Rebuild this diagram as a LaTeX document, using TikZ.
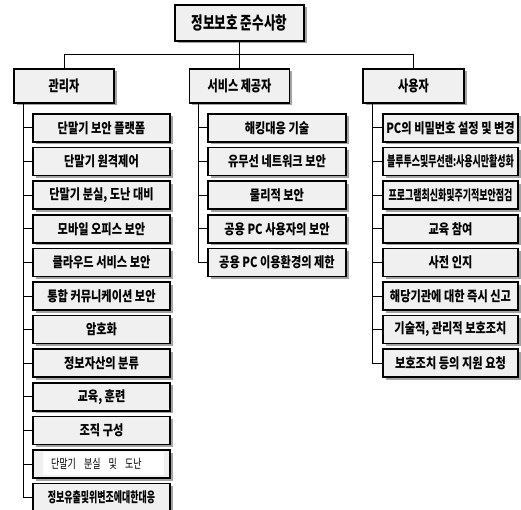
\documentclass[tikz,border=0pt]{standalone}
\usepackage{fontspec}
\usetikzlibrary{shadows}
\newfontfamily\krT[FakeStretch=0.72]{Noto Sans CJK KR}
\newfontfamily\krM[FakeStretch=0.74]{Noto Sans CJK KR}
\newfontfamily\krS[FakeStretch=0.8]{Noto Sans CJK KR}
\newfontfamily\krN[FakeStretch=0.64]{Noto Sans CJK KR}
\newfontfamily\krR[FakeStretch=0.72]{Noto Sans CJK KR}
\definecolor{boxgray}{HTML}{F0F0F0}
\tikzset{
  box/.style={draw, line width=1.6pt, fill=boxgray, inner sep=0pt,
    drop shadow={shadow xshift=2.5pt, shadow yshift=-2.5pt, fill=black!60, opacity=0.6}},
  titlebox/.style={box, minimum width=129pt, minimum height=36pt,
    font=\krT\bfseries\fontsize{17.5}{20}\selectfont},
  catbox/.style={box, minimum width=100pt, minimum height=34pt,
    font=\krM\bfseries\fontsize{15}{18}\selectfont},
  item/.style={box, minimum height=28pt, font=\krS\bfseries\fontsize{14}{16}\selectfont},
  itemL/.style={item, minimum width=137pt},
  itemM/.style={item, minimum width=138pt},
  itemR/.style={item, minimum width=135pt},
  narrow/.style={font=\krN\bfseries\fontsize{14}{16}\selectfont},
  link/.style={line width=1pt}
}
\begin{document}
\begin{tikzpicture}[x=1pt,y=-1pt]
\useasboundingbox (0,0) rectangle (521,510);
% title and categories
\node[titlebox] (T) at (239.5,23) {정보보호 준수사항};
\node[catbox] (L) at (64,86) {관리자};
\node[catbox] (S) at (239.5,86) {서비스 제공자};
\node[catbox, minimum width=101pt] (U) at (413.5,86) {사용자};
\coordinate (bus) at (239.5,54.5);
\draw[link] (T.south) -- (S.north);
\draw[link] (L.north) |- (bus) -| (U.north);
% left column
\node[itemL] (L1) at (101.5,128) {단말기 보안 플랫폼};
\node[itemL] (L2) at (101.5,161.6) {단말기 원격제어};
\node[itemL] (L3) at (101.5,195.2) {단말기 분실, 도난 대비};
\node[itemL] (L4) at (101.5,228.8) {모바일 오피스 보안};
\node[itemL] (L5) at (101.5,262.4) {클라우드 서비스 보안};
\node[itemL] (L6) at (101.5,296) {통합 커뮤니케이션 보안};
\node[itemL] (L7) at (101.5,329.6) {암호화};
\node[itemL] (L8) at (101.5,363.2) {정보자산의 분류};
\node[itemL] (L9) at (101.5,396.8) {교육, 훈련};
\node[itemL] (L10) at (101.5,430.4) {조직 구성};
\node[itemL] (L11) at (101.5,464) {};
\node[fill=white, inner ysep=0pt, inner xsep=8pt, text width=105pt, minimum height=23pt, align=left,
  font=\krR\fontsize{12.5}{14}\selectfont] (L11t) at (103.5,463.5)
  {단말기\hspace{4pt} 분실\hspace{4pt} 및\hspace{4pt} 도난};
\node[itemL, narrow] (L12) at (101.5,497.6) {정보유출및위변조에대한대응};
\coordinate (Lt) at (23,103);
\foreach \i in {1,...,12} \draw[link] (Lt) |- (L\i.west);
% middle column
\node[itemM] (S1) at (277,128) {해킹대응 기술};
\node[itemM] (S2) at (277,161.6) {유무선 네트워크 보안};
\node[itemM] (S3) at (277,195.2) {물리적 보안};
\node[itemM] (S4) at (277,228.8) {공용 PC 사용자의 보안};
\node[itemM] (S5) at (277,262.4) {공용 PC 이용환경의 제한};
\coordinate (St) at (198,103);
\foreach \i in {1,...,5} \draw[link] (St) |- (S\i.west);
% right column
\node[itemR] (U1) at (450.5,128) {PC의 비밀번호 설정 및 변경};
\node[itemR, narrow] (U2) at (450.5,161.6) {블루투스및무선랜:사용시만활성화};
\node[itemR, narrow] (U3) at (450.5,195.2) {프로그램최신화및주기적보안점검};
\node[itemR] (U4) at (450.5,228.8) {교육 참여};
\node[itemR] (U5) at (450.5,262.4) {사전 인지};
\node[itemR] (U6) at (450.5,296) {해당기관에 대한 즉시 신고};
\node[itemR] (U7) at (450.5,329.6) {기술적, 관리적 보호조치};
\node[itemR] (U8) at (450.5,363.2) {보호조치 등의 지원 요청};
\coordinate (Ut) at (372,103);
\foreach \i in {1,...,8} \draw[link] (Ut) |- (U\i.west);
\end{tikzpicture}
\end{document}
